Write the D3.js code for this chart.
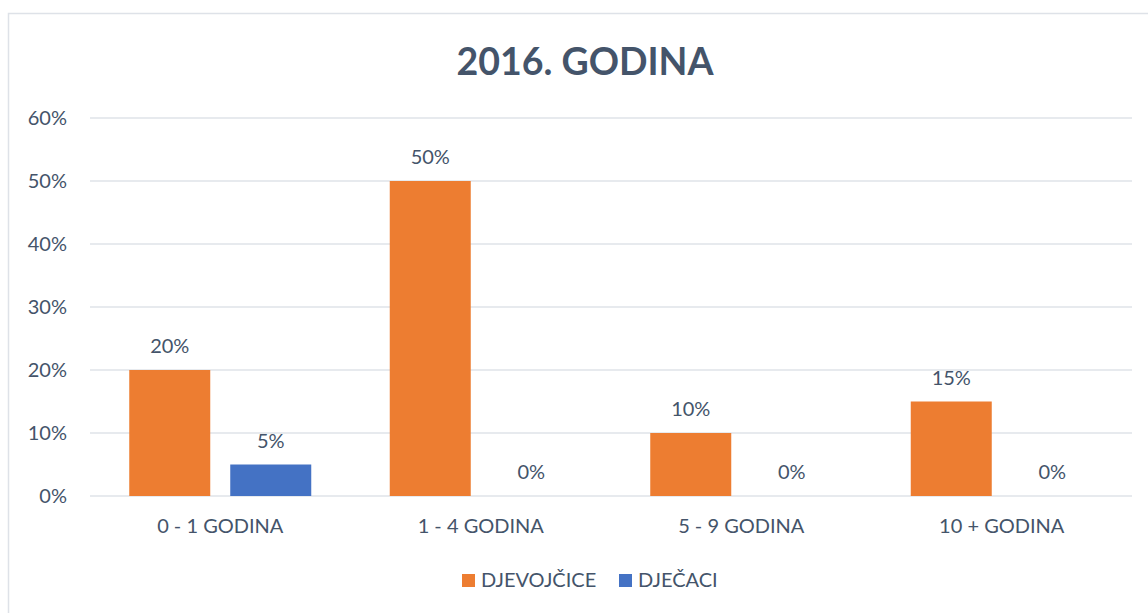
<!DOCTYPE html>
<html><head><meta charset="utf-8">
<script src="https://cdn.jsdelivr.net/npm/d3@7"></script>
<style>body{margin:0;background:#fff;}svg{display:block;font-family:Lato,"Open Sans",sans-serif;}</style>
</head><body><svg id="c" width="1148" height="613"></svg>
<script>
const categories = ["0 - 1 GODINA","1 - 4 GODINA","5 - 9 GODINA","10 + GODINA"];
const seriesNames = ["DJEVOJČICE","DJEČACI"];
const djevojcice = [0.20,0.50,0.10,0.15];
const djecaci = [0.05,0,0,0];
const yTicks = [0,0.1,0.2,0.3,0.4,0.5,0.6];
const colors = ["#ED7D31","#4472C4"];
const title = "2016. GODINA";

const svg = d3.select("#c");
const txt = "#44546A";
svg.append("rect").attr("x",8.5).attr("y",13.5).attr("width",1160).attr("height",620)
  .attr("fill","#fff").attr("stroke","#DEE2E8").attr("stroke-width",1.5);

const x0 = d3.scaleBand().domain(categories).range([90,1132]);
const y = d3.scaleLinear().domain([0,0.6]).range([496,118]);
const series = [djevojcice, djecaci];

svg.append("text").attr("x",585).attr("y",75).attr("text-anchor","middle")
  .attr("font-size",37.5).attr("font-weight","bold").attr("fill",txt).text(title);

const grid = svg.append("g");
grid.selectAll("line").data(yTicks).join("line")
  .attr("x1",90).attr("x2",1132).attr("y1",d=>y(d)).attr("y2",d=>y(d))
  .attr("stroke","#DFE3E9").attr("stroke-width",1.5);

const yAxis = d3.axisLeft(y).tickValues(yTicks).tickFormat(d3.format(".0%")).tickSize(0).tickPadding(0);
const ya = svg.append("g").attr("transform","translate(67,0)").call(yAxis);
ya.select(".domain").remove();
ya.selectAll("text").attr("font-size",20).attr("fill",txt).attr("font-family","Lato,'Open Sans',sans-serif");

const xAxis = d3.axisBottom(x0).tickSize(0).tickPadding(0);
const xa = svg.append("g").attr("transform","translate(0,519)").call(xAxis);
xa.select(".domain").remove();
xa.selectAll("text").attr("font-size",20).attr("fill",txt).attr("font-family","Lato,'Open Sans',sans-serif");

const barW = 81, gap = 20;
series.forEach((vals,si)=>{
  const g = svg.append("g");
  const bx = c => x0(c) + x0.bandwidth()/2 + (si===0 ? -gap/2-barW : gap/2);
  g.selectAll("rect").data(categories).join("rect")
    .attr("x",c=>bx(c)).attr("width",barW)
    .attr("y",(c,i)=>y(vals[i])).attr("height",(c,i)=>y(0)-y(vals[i]))
    .attr("fill",colors[si]);
  g.selectAll("text").data(categories).join("text")
    .attr("x",c=>bx(c)+barW/2).attr("y",(c,i)=>y(vals[i])-17)
    .attr("text-anchor","middle").attr("font-size",20).attr("fill",txt)
    .text((c,i)=>d3.format(".0%")(vals[i]));
});

const leg = svg.append("g");
const legX = [462, 619];
seriesNames.forEach((n,i)=>{
  leg.append("rect").attr("x",legX[i]).attr("y",574).attr("width",13).attr("height",13).attr("fill",colors[i]);
  leg.append("text").attr("x",legX[i]+19).attr("y",587).attr("font-size",20).attr("fill",txt).text(n);
});
</script></body></html>
